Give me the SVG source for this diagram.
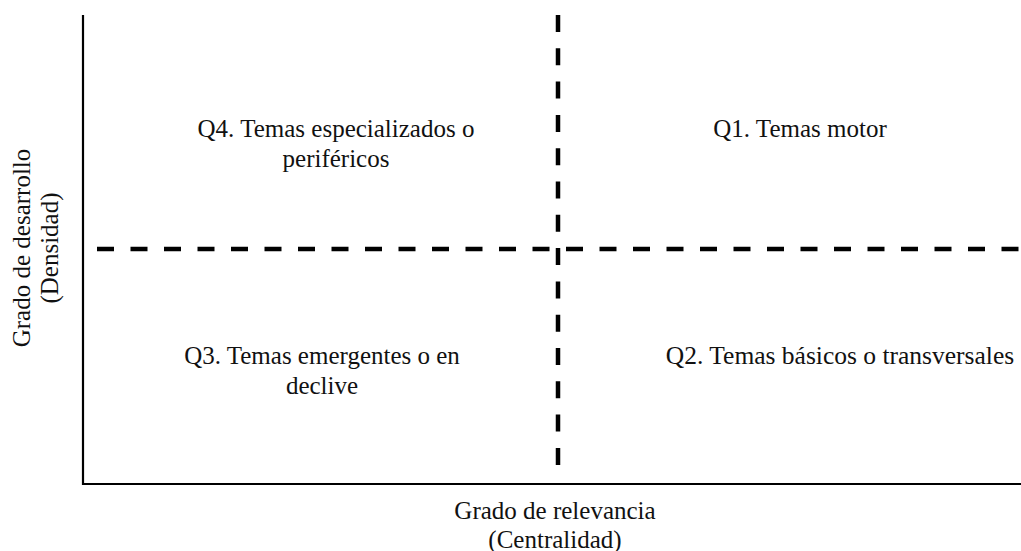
<svg xmlns="http://www.w3.org/2000/svg" width="1021" height="551" viewBox="0 0 1021 551">
<style>
.t{font-family:'Liberation Serif',Tinos,'Times New Roman','DejaVu Serif',serif;font-size:25px;fill:#111;text-anchor:middle}
.axis{stroke:#000;stroke-width:2.2;fill:none}
.dash{stroke:#000;stroke-width:4.5;fill:none;stroke-dasharray:17 16.5}
</style>
<rect width="1021" height="551" fill="#fff"/>
<g id="connectors">
<path class="axis" d="M83,15 V484 H1021"/>
<line class="dash" x1="97" y1="249" x2="1021" y2="249"/>
<line class="dash" x1="558" y1="15" x2="558" y2="468" style="stroke-dasharray:17 16.3"/>
</g>
<g class="t" font-family="Liberation Serif, serif">
<g id="q4"><text x="336" y="137">Q4. Temas especializados o</text><text x="336" y="167">periféricos</text></g>
<g id="q1"><text x="800" y="137">Q1. Temas motor</text></g>
<g id="q3"><text x="322" y="364">Q3. Temas emergentes o en</text><text x="322" y="394">declive</text></g>
<g id="q2"><text x="840" y="364" font-size="25.5">Q2. Temas básicos o transversales</text></g>
<g id="xlabel"><text x="555" y="519">Grado de relevancia</text><text x="555" y="548">(Centralidad)</text></g>
<g id="ylabel" transform="translate(0,248) rotate(-90)"><text x="0" y="30">Grado de desarrollo</text><text x="0" y="58">(Densidad)</text></g>
</g>
</svg>
